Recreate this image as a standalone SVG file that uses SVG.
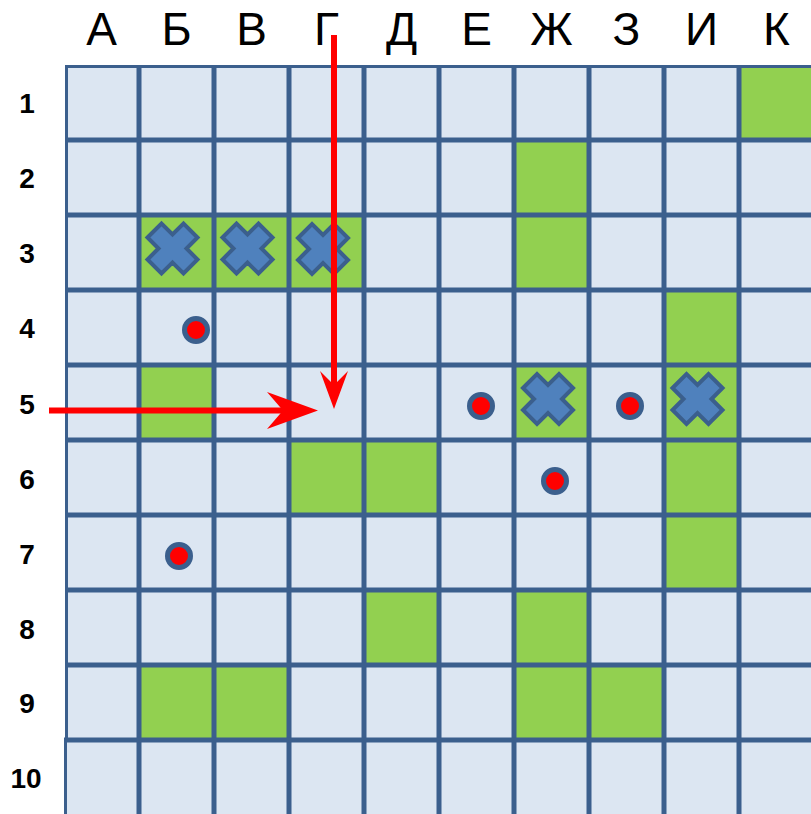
<svg xmlns="http://www.w3.org/2000/svg" width="811" height="814" viewBox="0 0 811 814">
  <style>
    .col { font-family: "Liberation Sans", Arial, sans-serif; font-size: 46px; fill: #000; text-anchor: middle; }
    .row { font-family: "Liberation Sans", Arial, sans-serif; font-size: 28px; font-weight: bold; fill: #000; text-anchor: middle; }
    .cell { fill: #DCE6F2; }
    .green { fill: #92D050; }
    .gl { stroke: #3B5F8D; stroke-width: 5; }
    .border { stroke: #3B5F8D; stroke-width: 3; fill: none; }
    .cross { fill: #4F81BD; stroke: #3B5F8D; stroke-width: 4; stroke-linejoin: miter; }
    .dot { fill: #FF0000; stroke: #3B5F8D; stroke-width: 5; }
    .arrow { stroke: #FF0000; stroke-width: 6; fill: none; }
    .head { fill: #FF0000; }
  </style>
  <defs>
    <polygon id="x" points="-25,-11 -11,-25 0,-14 11,-25 25,-11 14,0 25,11 11,25 0,14 -11,25 -25,11 -14,0"/>
  </defs>
  <rect width="811" height="814" fill="#FFFFFF"/>

  <g id="labels-columns">
    <text class="col" x="101.5" y="45">А</text>
    <text class="col" x="176.5" y="45">Б</text>
    <text class="col" x="251.5" y="45">В</text>
    <text class="col" x="326.5" y="45">Г</text>
    <text class="col" x="401.5" y="45">Д</text>
    <text class="col" x="476.5" y="45">Е</text>
    <text class="col" x="551.5" y="45">Ж</text>
    <text class="col" x="626.5" y="45">З</text>
    <text class="col" x="701.5" y="45">И</text>
    <text class="col" x="776.5" y="45">К</text>
  </g>
  <g id="labels-rows">
    <text class="row" x="27" y="113">1</text>
    <text class="row" x="27" y="188">2</text>
    <text class="row" x="27" y="263">3</text>
    <text class="row" x="27" y="338">4</text>
    <text class="row" x="27" y="414">5</text>
    <text class="row" x="27" y="489">6</text>
    <text class="row" x="27" y="564">7</text>
    <text class="row" x="27" y="639">8</text>
    <text class="row" x="27" y="713">9</text>
    <text class="row" x="26" y="788">10</text>
  </g>

  <g id="board">
    <rect class="cell" x="65" y="65" width="746" height="749"/>
    <g id="green-cells">
      <rect class="green" x="739" y="65" width="75" height="75"/>
      <rect class="green" x="514" y="140" width="75" height="75"/>
      <rect class="green" x="139" y="215" width="75" height="75"/>
      <rect class="green" x="214" y="215" width="75" height="75"/>
      <rect class="green" x="289" y="215" width="75" height="75"/>
      <rect class="green" x="514" y="215" width="75" height="75"/>
      <rect class="green" x="664" y="290" width="75" height="75"/>
      <rect class="green" x="139" y="365" width="75" height="75"/>
      <rect class="green" x="514" y="365" width="75" height="75"/>
      <rect class="green" x="664" y="365" width="75" height="75"/>
      <rect class="green" x="289" y="440" width="75" height="75"/>
      <rect class="green" x="364" y="440" width="75" height="75"/>
      <rect class="green" x="664" y="440" width="75" height="75"/>
      <rect class="green" x="664" y="515" width="75" height="75"/>
      <rect class="green" x="364" y="590" width="75" height="75"/>
      <rect class="green" x="514" y="590" width="75" height="75"/>
      <rect class="green" x="139" y="665" width="75" height="75"/>
      <rect class="green" x="214" y="665" width="75" height="75"/>
      <rect class="green" x="514" y="665" width="75" height="75"/>
      <rect class="green" x="589" y="665" width="75" height="75"/>
    </g>
    <g id="grid-lines">
      <line class="gl" x1="139" y1="65" x2="139" y2="814"/>
      <line class="gl" x1="214" y1="65" x2="214" y2="814"/>
      <line class="gl" x1="289" y1="65" x2="289" y2="814"/>
      <line class="gl" x1="364" y1="65" x2="364" y2="814"/>
      <line class="gl" x1="439" y1="65" x2="439" y2="814"/>
      <line class="gl" x1="514" y1="65" x2="514" y2="814"/>
      <line class="gl" x1="589" y1="65" x2="589" y2="814"/>
      <line class="gl" x1="664" y1="65" x2="664" y2="814"/>
      <line class="gl" x1="739" y1="65" x2="739" y2="814"/>
      <line class="gl" x1="65" y1="140" x2="811" y2="140"/>
      <line class="gl" x1="65" y1="215" x2="811" y2="215"/>
      <line class="gl" x1="65" y1="290" x2="811" y2="290"/>
      <line class="gl" x1="65" y1="365" x2="811" y2="365"/>
      <line class="gl" x1="65" y1="440" x2="811" y2="440"/>
      <line class="gl" x1="65" y1="515" x2="811" y2="515"/>
      <line class="gl" x1="65" y1="590" x2="811" y2="590"/>
      <line class="gl" x1="65" y1="665" x2="811" y2="665"/>
      <line class="gl" x1="64" y1="740" x2="811" y2="740"/>
      <line class="border" x1="66.5" y1="65" x2="66.5" y2="740"/>
      <line class="border" x1="65.5" y1="740" x2="65.5" y2="814"/>
      <line class="border" x1="65" y1="66.5" x2="811" y2="66.5"/>
    </g>
  </g>

  <g id="crosses">
    <use href="#x" class="cross" x="172.5" y="248.5"/>
    <use href="#x" class="cross" x="247.5" y="248.5"/>
    <use href="#x" class="cross" x="323" y="249"/>
    <use href="#x" class="cross" x="548" y="399"/>
    <use href="#x" class="cross" x="697.5" y="399"/>
  </g>

  <g id="dots">
    <circle class="dot" cx="196" cy="330" r="11.5"/>
    <circle class="dot" cx="481" cy="406" r="11.5"/>
    <circle class="dot" cx="630" cy="406" r="11.5"/>
    <circle class="dot" cx="555" cy="481" r="11.5"/>
    <circle class="dot" cx="179" cy="556" r="11.5"/>
  </g>

  <g id="connectors">
    <line class="arrow" x1="334" y1="35" x2="334" y2="386"/>
    <polygon class="head" points="334,409 348,371 334,385 320,371"/>
    <line class="arrow" x1="49" y1="410.5" x2="284" y2="410.5"/>
    <polygon class="head" points="318,410.5 267,392 283,410.5 267,429"/>
  </g>
</svg>
